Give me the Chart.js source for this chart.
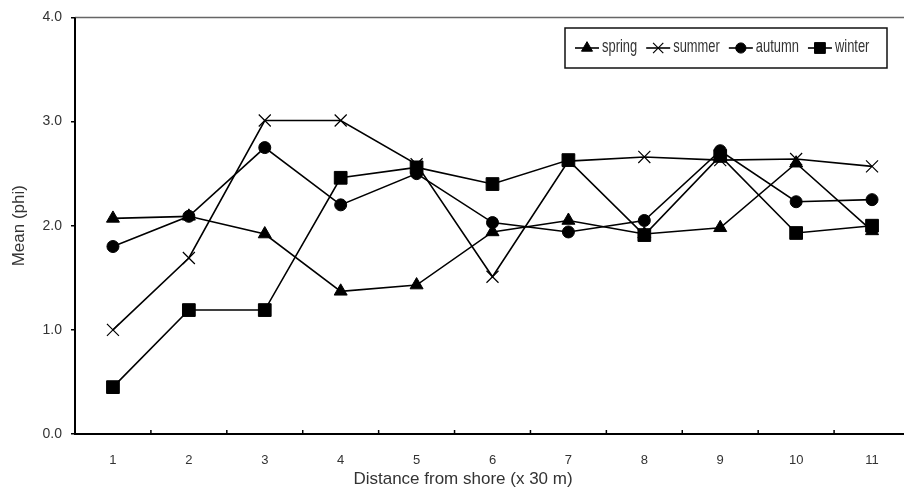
<!DOCTYPE html>
<html>
<head>
<meta charset="utf-8">
<script src="https://cdn.jsdelivr.net/npm/chart.js@4.4.1/dist/chart.umd.min.js"></script>
<style>
  html, body { margin: 0; padding: 0; background: #fff; overflow: hidden; }
  #wrap { width: 920px; height: 494px; }
</style>
</head>
<body>
<div id="wrap"><canvas id="grafico" width="920" height="494"></canvas></div>
<script>
// datos
const distancias = ['1', '2', '3', '4', '5', '6', '7', '8', '9', '10', '11'];
const spring = [2.07, 2.09, 1.92, 1.37, 1.43, 1.94, 2.05, 1.92, 1.98, 2.60, 1.95];
const summer = [1.00, 1.69, 3.01, 3.01, 2.59, 1.51, 2.62, 2.66, 2.63, 2.64, 2.57];
const autumn = [1.80, 2.09, 2.75, 2.20, 2.50, 2.03, 1.94, 2.05, 2.72, 2.23, 2.25];
const winter = [0.45, 1.19, 1.19, 2.46, 2.56, 2.40, 2.63, 1.91, 2.67, 1.93, 2.00];
const yTicks = [0, 1, 2, 3, 4];

const negro = '#000';
const texto = '#333';

function serie(label, data, estilo, radio) {
  return {
    label: label,
    data: data,
    borderColor: negro,
    backgroundColor: negro,
    borderWidth: 1.6,
    tension: 0,
    pointStyle: estilo,
    pointRadius: radio,
    pointHoverRadius: radio,
    pointBorderWidth: estilo === 'crossRot' ? 1.2 : 1,
    pointBorderColor: negro,
    pointBackgroundColor: negro
  };
}

// marco superior, ticks del eje x, titulo x y leyenda
const extras = {
  id: 'extras',
  afterDraw(chart) {
    const ctx = chart.ctx;
    const area = chart.chartArea;
    const xs = chart.scales.x;
    ctx.save();
    // linea superior
    ctx.strokeStyle = '#666';
    ctx.lineWidth = 1.5;
    ctx.beginPath();
    ctx.moveTo(area.left, area.top);
    ctx.lineTo(area.right, area.top);
    ctx.stroke();
    // ejes
    ctx.strokeStyle = negro;
    ctx.lineWidth = 2;
    ctx.beginPath();
    ctx.moveTo(area.left, area.top);
    ctx.lineTo(area.left, area.bottom);
    ctx.lineTo(area.right, area.bottom);
    ctx.stroke();
    // ticks hacia dentro entre categorias
    const paso = xs.getPixelForValue(1) - xs.getPixelForValue(0);
    ctx.lineWidth = 1.5;
    for (let i = 0; i < distancias.length - 1; i++) {
      const px = xs.getPixelForValue(i) + paso / 2;
      ctx.beginPath();
      ctx.moveTo(px, area.bottom);
      ctx.lineTo(px, area.bottom - 4);
      ctx.stroke();
    }
    // titulo eje x
    ctx.fillStyle = texto;
    ctx.font = '17px "Liberation Sans", Arial, sans-serif';
    ctx.textAlign = 'center';
    ctx.textBaseline = 'middle';
    ctx.fillText('Distance from shore (x 30 m)', 463, 479);

    // leyenda
    const bx = 565, by = 28, bw = 322, bh = 40;
    ctx.lineWidth = 1.5;
    ctx.strokeStyle = '#111';
    ctx.strokeRect(bx, by, bw, bh);
    ctx.font = '19px "Liberation Sans", Arial, sans-serif';
    ctx.textAlign = 'left';
    const estrecho = 0.68;
    let x = 575;
    const yc = 47;
    chart.data.datasets.forEach(ds => {
      ctx.strokeStyle = negro;
      ctx.fillStyle = negro;
      ctx.lineWidth = 1.6;
      ctx.beginPath();
      ctx.moveTo(x, yc + 1);
      ctx.lineTo(x + 24, yc + 1);
      ctx.stroke();
      ctx.lineWidth = ds.pointBorderWidth;
      Chart.helpers.drawPoint(ctx, {
        pointStyle: ds.pointStyle,
        radius: ds.pointRadius * 0.85,
        rotation: 0,
        borderWidth: ds.pointBorderWidth
      }, x + 12, yc + 1);
      ctx.fillStyle = texto;
      ctx.save();
      ctx.translate(x + 27, yc);
      ctx.scale(estrecho, 1);
      ctx.fillText(ds.label, 0, 0);
      ctx.restore();
      x += 27 + ctx.measureText(ds.label).width * estrecho + 9;
    });
    ctx.restore();
  }
};

new Chart(document.getElementById('grafico'), {
  type: 'line',
  data: {
    labels: distancias,
    datasets: [
      serie('spring', spring, 'triangle', 7.5),
      serie('summer', summer, 'crossRot', 8.5),
      serie('autumn', autumn, 'circle', 6),
      serie('winter', winter, 'rect', 9)
    ]
  },
  options: {
    responsive: false,
    animation: false,
    events: [],
    layout: { padding: { left: 0, top: 13, right: 8, bottom: 0 } },
    plugins: {
      legend: { display: false },
      tooltip: { enabled: false }
    },
    scales: {
      x: {
        offset: true,
        border: { display: false },
        grid: { display: false, offset: true },
        ticks: {
          color: texto,
          font: { family: '"Liberation Sans", Arial, sans-serif', size: 13 },
          padding: 11,
          maxRotation: 0
        },
        afterFit(scale) { scale.height = 60; }
      },
      y: {
        min: 0,
        max: 4,
        afterBuildTicks(scale) { scale.ticks = yTicks.map(v => ({ value: v })); },
        border: { display: false },
        grid: { drawOnChartArea: false, color: negro, tickLength: 4, lineWidth: 1.5 },
        ticks: {
          color: texto,
          font: { family: '"Liberation Sans", Arial, sans-serif', size: 14 },
          padding: 9,
          callback: v => v.toFixed(1)
        },
        title: {
          display: true,
          text: 'Mean (phi)',
          color: texto,
          font: { family: '"Liberation Sans", Arial, sans-serif', size: 17 },
          padding: { top: 9, bottom: 0 }
        },
        afterFit(scale) { scale.width = 75; }
      }
    }
  },
  plugins: [extras]
});
</script>
</body>
</html>
